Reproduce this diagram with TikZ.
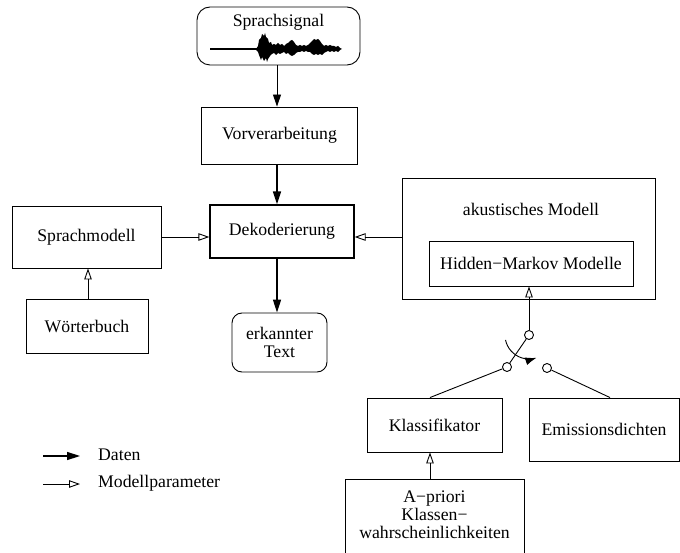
\documentclass[tikz,border=0pt]{standalone}
\usepackage{fontspec}
\setmainfont{Liberation Serif}
\usetikzlibrary{arrows.meta}
\begin{document}
\begin{tikzpicture}[x=1pt,y=-1pt,
  every node/.style={font=\fontsize{17.7}{18}\selectfont, inner sep=0pt},
  box/.style={draw, line width=0.9pt, align=center},
  rbox/.style={box, rounded corners=#1},
  datenpfeil/.style={line width=1.5pt, -{Triangle[length=13pt,width=8pt]}},
  datenduenn/.style={line width=0.9pt, -{Triangle[length=12pt,width=8pt]}},
  parampfeil/.style={line width=0.9pt, -{Triangle[open,length=11pt,width=7.5pt,line width=0.9pt]}},
  kontakt/.style={draw, circle, line width=0.9pt, minimum size=9pt, fill=white},
  leitung/.style={line width=0.9pt}]
\useasboundingbox (0,0) rectangle (680,553);

% signal source with waveform
\node[rbox=13pt, minimum width=163pt, minimum height=58pt] (sig) at (278.5,36) {};
\node (sigtext) at (278.5,22) {Sprachsignal};
\draw[line width=1.3pt] (210,49) -- (257,49);
\fill (256,49) -- (258,46) -- (259,40) -- (261,38) -- (262,34) -- (264,36) -- (265,33)
  -- (266,37) -- (268,39) -- (269,43) -- (271,42) -- (272,45) -- (274,44) -- (276,45)
  -- (278,43) -- (280,45) -- (282,44) -- (284,46) -- (286,44) -- (288,43) -- (290,41)
  -- (292,40) -- (294,42) -- (296,45) -- (298,46) -- (300,45) -- (302,46) -- (304,45)
  -- (306,46) -- (308,45) -- (310,43) -- (312,41) -- (314,39) -- (316,40) -- (318,39)
  -- (320,41) -- (322,44) -- (324,46) -- (326,45) -- (328,46) -- (330,45) -- (332,46)
  -- (334,46) -- (336,47) -- (338,46) -- (340,48) -- (342,49)
  -- (340,50) -- (338,52) -- (336,51) -- (334,52) -- (332,51) -- (330,52) -- (328,51)
  -- (326,52) -- (324,53) -- (322,55) -- (320,54) -- (318,55) -- (316,54) -- (314,55)
  -- (312,54) -- (310,52) -- (308,52) -- (306,51) -- (304,52) -- (302,51) -- (300,52)
  -- (298,52) -- (296,53) -- (294,55) -- (292,56) -- (290,55) -- (288,53) -- (286,54)
  -- (284,52) -- (282,53) -- (280,54) -- (278,53) -- (276,55) -- (274,53) -- (272,54)
  -- (270,56) -- (268,59) -- (267,62) -- (266,58) -- (264,61) -- (262,57) -- (261,60)
  -- (259,55) -- (258,52) -- (256,50) -- cycle;

% processing chain
\node[box, minimum width=156pt, minimum height=57pt] (vor) at (279.5,135.5) {Vorverarbeitung};
\node[box, line width=1.3pt, minimum width=144pt, minimum height=53pt] (dek) at (282,231.5) {Dekoderierung};
\node[rbox=10pt, minimum width=95pt, minimum height=59pt] (erk) at (279.5,342.5) {erkannter\\Text};

% language model side
\node[box, minimum width=149pt, minimum height=62pt] (spm) at (86.5,237) {Sprachmodell};
\node[box, minimum width=122pt, minimum height=54pt] (wb) at (87,326) {Wörterbuch};

% acoustic model side
\node[box, minimum width=253pt, minimum height=121pt] (akm) at (528.5,238.5) {};
\node (akmtext) at (531,209) {akustisches Modell};
\node[box, minimum width=204pt, minimum height=45pt] (hmm) at (531,263.5) {Hidden−Markov Modelle};
\node[box, minimum width=135pt, minimum height=54pt] (kla) at (434.5,425) {Klassifikator};
\node[box, minimum width=150pt, minimum height=63pt] (emi) at (604,429.5) {Emissionsdichten};
\node[box, minimum width=179pt, minimum height=86pt] (apr) at (434.5,522) {};
\node[align=center] (aprtext) at (434.5,515) {A−priori\\Klassen−\\wahrscheinlichkeiten};

% data flow
\draw[datenduenn] (sig.south -| 277,0) -- (vor.north -| 277,0);
\draw[datenpfeil] (vor.south -| 277,0) -- (dek.north -| 277,0);
\draw[datenpfeil] (dek.south -| 277,0) -- (erk.north -| 277,0);

% model parameters
\draw[parampfeil] (spm.east) -- (spm.east -| dek.west);
\draw[parampfeil] (akm.west |- spm.east) -- (dek.east |- spm.east);
\draw[parampfeil] (wb.north -| 88,0) -- (spm.south -| 88,0);
\draw[parampfeil] (apr.north -| 430,0) -- (kla.south -| 430,0);

% switch between classifier and emission densities
\node[kontakt] (c1) at (529,335) {};
\node[kontakt] (c2) at (507,367) {};
\node[kontakt] (c3) at (547,368) {};
\draw[parampfeil] (c1) -- (c1 |- hmm.south);
\draw[leitung] (c1) -- (c2);
\draw[leitung] (c2) -- (kla.north -| 430,0);
\draw[leitung] (c3) -- (emi.north -| 610,0);
\draw[leitung, -{Latex[length=11pt,width=8pt]}] ([shift={(168:24)}]c1.center)
  arc[start angle=168, end angle=72, radius=24];

% legend
\coordinate (d1) at (43,456);
\coordinate (d2) at (80,456);
\coordinate (m1) at (43,484);
\coordinate (m2) at (80,484);
\draw[datenpfeil] (d1) -- (d2);
\draw[parampfeil] (m1) -- (m2);
\node[anchor=west] (ldaten) at (98,455) {Daten};
\node[anchor=west] (lparam) at (98,483) {Modellparameter};
\end{tikzpicture}
\end{document}
